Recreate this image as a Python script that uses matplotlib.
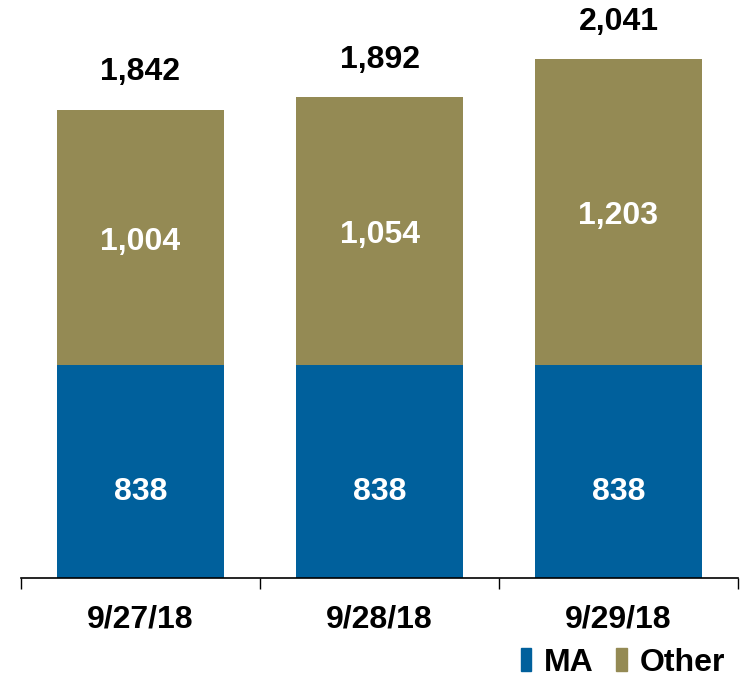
import matplotlib.pyplot as plt
from matplotlib.patches import Patch

dates = ['9/27/18', '9/28/18', '9/29/18']
ma = [838, 838, 838]
other = [1004, 1054, 1203]
totals = [1842, 1892, 2041]

blue = '#00609C'
olive = '#948A54'

plt.rcParams['font.family'] = ['Liberation Sans', 'DejaVu Sans']

fig = plt.figure(figsize=(7.43, 6.99), dpi=100)
ax = fig.add_axes([21 / 743, 1 - 578 / 699, 717 / 743, 578 / 699])

x = range(len(dates))
ax.bar(x, ma, width=0.7, color=blue, label='MA')
ax.bar(x, other, width=0.7, bottom=ma, color=olive, label='Other')

fs = 23
for i in x:
    ax.annotate(f'{ma[i]:,}', (i, ma[i] / 2), xytext=(0, -15), textcoords='offset points',
                ha='center', va='center', color='white', fontsize=fs, fontweight='bold')
    ax.annotate(f'{other[i]:,}', (i, ma[i] + other[i] / 2), xytext=(0, -3), textcoords='offset points',
                ha='center', va='center', color='white', fontsize=fs, fontweight='bold')
    ax.annotate(f'{totals[i]:,}', (i, totals[i]), xytext=(0, 27), textcoords='offset points',
                ha='center', va='center', color='black', fontsize=fs, fontweight='bold')

ax.set_xlim(-0.5, 2.5)
ax.set_ylim(0, 2274)
ax.set_yticks([])
for s in ['top', 'right', 'left']:
    ax.spines[s].set_visible(False)
ax.spines['bottom'].set_linewidth(1.2)

ax.set_xticks([-0.5, 0.5, 1.5, 2.5])
ax.set_xticklabels([])
ax.tick_params(axis='x', direction='out', length=8, width=1)
ax.set_xticks([0, 1, 2], minor=True)
ax.set_xticklabels(dates, minor=True, fontsize=fs, fontweight='bold')
ax.tick_params(axis='x', which='minor', length=0, pad=19)

handles = [Patch(color=blue, label='MA'), Patch(color=olive, label='Other')]
fig.legend(handles=handles, loc='center right', bbox_to_anchor=(0.993, 0.052), ncol=2,
           frameon=False, prop={'size': fs, 'weight': 'bold'}, borderaxespad=0,
           handlelength=0.33, handleheight=0.75, handletextpad=0.4, columnspacing=0.7)

fig.savefig('out.png', dpi=100)
